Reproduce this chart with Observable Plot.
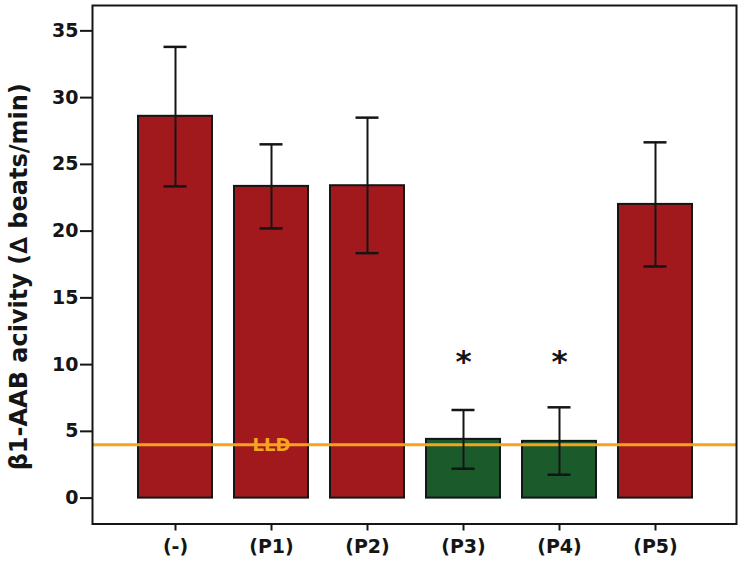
<!DOCTYPE html>
<html>
<head>
<meta charset="utf-8">
<script src="https://cdn.jsdelivr.net/npm/d3@7"></script>
<script src="https://cdn.jsdelivr.net/npm/@observablehq/plot@0.6"></script>
<style>
  body { margin: 0; background: #fff; }
</style>
</head>
<body>
<div id="chart"></div>
<script>
const categories = ["(-)", "(P1)", "(P2)", "(P3)", "(P4)", "(P5)"];
const means = [28.6, 23.35, 23.4, 4.4, 4.25, 22.0];
const lower = [23.35, 20.2, 18.35, 2.2, 1.75, 17.35];
const upper = [33.8, 26.5, 28.5, 6.6, 6.8, 26.65];
const significant = [false, false, false, true, true, false];
const yTicks = [0, 5, 10, 15, 20, 25, 30, 35];
const lld = 4;
const lldLabel = "LLD";
const lldCategory = "(P1)";
const starValue = 10.4;
const yLabel = "β1-AAB acivity (∆ beats/min)";

const data = categories.map((c, i) => ({
  cat: c, mean: means[i], lo: lower[i], hi: upper[i], sig: significant[i]
}));

const red = "#a2191d";
const green = "#1b5a2a";
const orange = "#f5a41e";
const ink = "#151515";

const chart = Plot.plot({
  width: 742,
  height: 567,
  marginLeft: 92,
  marginRight: 6,
  marginTop: 5,
  marginBottom: 43.5,
  style: { fontFamily: "'DejaVu Sans', sans-serif", fontWeight: "bold", color: ink, background: "#fff" },
  x: { domain: categories, paddingInner: 0.225, paddingOuter: 0.1125, insetLeft: 33, insetRight: 31, label: null },
  y: { domain: [-1.94, 36.9], label: null },
  marks: [
    Plot.barY(data, { x: "cat", y1: 0, y2: "mean", fill: d => d.sig ? green : red, stroke: ink, strokeWidth: 2 }),
    Plot.ruleY([lld], { stroke: orange, strokeWidth: 3 }),
    Plot.text([lldLabel], { x: () => lldCategory, y: () => lld, text: d => d, fill: orange, fontSize: 18, fontWeight: "bold", dy: 1, style: "letter-spacing:3px" }),
    Plot.ruleX(data, { x: "cat", y1: "lo", y2: "hi", stroke: ink, strokeWidth: 2 }),
    Plot.tickY(data, { x: "cat", y: "lo", stroke: ink, strokeWidth: 2.5, insetLeft: 25.5, insetRight: 25.5 }),
    Plot.tickY(data, { x: "cat", y: "hi", stroke: ink, strokeWidth: 2.5, insetLeft: 25.5, insetRight: 25.5 }),
    Plot.text(data.filter(d => d.sig), { x: "cat", y: () => starValue, text: () => "*", fontSize: 31, fontWeight: "bold", fill: ink, dy: 3 }),
    Plot.frame({ stroke: ink, strokeWidth: 2 }),
    Plot.axisY({ ticks: yTicks, tickSize: 12, tickPadding: 2, fontSize: 19, fontWeight: "bold", strokeWidth: 2, stroke: ink, label: null }),
    Plot.axisX({ tickSize: 7, tickPadding: 8, fontSize: 19, fontWeight: "bold", strokeWidth: 2, stroke: ink, label: null }),
    Plot.text([yLabel], { frameAnchor: "left", textAnchor: "middle", rotate: -90, dx: -73, dy: 12, text: d => d, fontSize: 24, fontWeight: "bold", fill: ink })
  ]
});
document.getElementById("chart").appendChild(chart);
</script>
</body>
</html>
